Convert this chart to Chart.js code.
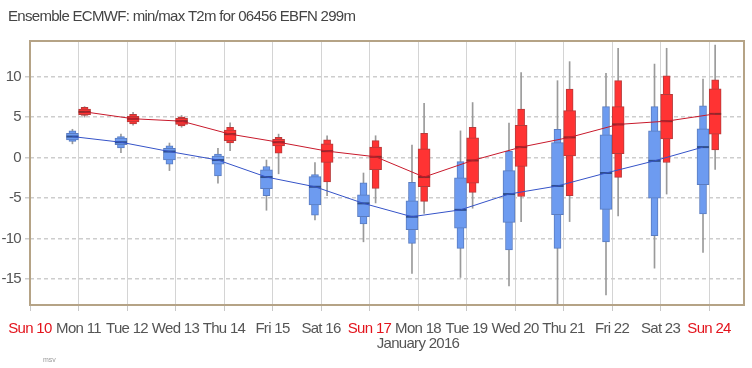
<!DOCTYPE html>
<html>
<head>
<meta charset="utf-8">
<script src="https://cdn.jsdelivr.net/npm/chart.js@4/dist/chart.umd.min.js"></script>
<style>
  html, body { margin: 0; padding: 0; background: #fff; }
  #wrap { width: 752px; height: 368px; }
</style>
</head>
<body>
<div id="wrap"><canvas id="grafico"></canvas></div>
<script>
// Eixo x: dias (meia-noite nos inteiros), rótulo no meio-dia
const dayLabels = ['Sun 10', 'Mon 11', 'Tue 12', 'Wed 13', 'Thu 14', 'Fri 15', 'Sat 16',
                   'Sun 17', 'Mon 18', 'Tue 19', 'Wed 20', 'Thu 21', 'Fri 22', 'Sat 23', 'Sun 24'];
const dayTicks = [11, 12, 13, 14, 15, 16, 17, 18, 19, 20, 21, 22, 23, 24, 25];
const monthLabel = 'January 2016';
const monthUnder = 'Mon 18';
const yTicks = [-15, -10, -5, 0, 5, 10];

// min T2m (09h)
const minTimes     = [11.375, 12.375, 13.375, 14.375, 15.375, 16.375, 17.375, 18.375, 19.375, 20.375, 21.375, 22.375, 23.375, 24.375];
const minWhiskerLo = [1.7, 0.6, -1.6, -3.15, -6.5, -7.7, -10.4, -14.3, -14.8, -15.85, -18.2, -16.95, -13.65, -11.7];
const minOuterLo   = [2.0, 1.2, -0.8, -2.25, -4.7, -7.1, -8.2, -10.6, -11.2, -11.4, -11.2, -10.4, -9.65, -6.95];
const minInnerLo   = [2.2, 1.6, -0.3, -0.8, -3.85, -5.85, -7.3, -8.9, -8.7, -8.0, -7.05, -6.4, -5.0, -3.35];
const minMedian    = [2.6, 1.9, 0.75, -0.3, -2.4, -3.6, -5.65, -7.3, -6.45, -4.5, -3.5, -1.9, -0.4, 1.3];
const minInnerHi   = [3.0, 2.4, 1.15, 0.2, -1.5, -2.35, -4.6, -5.35, -2.5, -1.6, 1.85, 2.8, 3.3, 3.55];
const minOuterHi   = [3.3, 2.6, 1.45, 0.45, -1.1, -2.1, -3.1, -3.05, -0.5, 0.8, 3.5, 6.3, 6.3, 6.4];
const minWhiskerHi = [3.5, 2.9, 1.8, 1.15, -0.3, -0.6, -1.9, 1.55, 3.3, 4.25, 9.5, 10.4, 11.55, 9.7];

// max T2m (15h)
const maxTimes     = [11.625, 12.625, 13.625, 14.625, 15.625, 16.625, 17.625, 18.625, 19.625, 20.625, 21.625, 22.625, 23.625, 24.625];
const maxWhiskerLo = [5.0, 4.0, 3.75, 0.85, -2.0, -4.7, -5.6, -6.9, -6.25, -7.9, -7.9, -7.2, -4.5, -1.45];
const maxOuterLo   = [5.2, 4.15, 3.9, 1.8, 0.55, -3.0, -3.8, -5.4, -4.3, -4.8, -4.7, -2.45, -0.6, 0.95];
const maxInnerLo   = [5.3, 4.4, 4.1, 2.1, 1.45, -0.6, -1.5, -3.6, -3.15, -1.1, 0.2, 0.5, 2.3, 2.9];
const maxMedian    = [5.65, 4.8, 4.5, 2.9, 1.9, 0.8, 0.1, -2.4, -0.35, 1.3, 2.5, 4.1, 4.5, 5.4];
const maxInnerHi   = [6.0, 5.1, 4.85, 3.4, 2.25, 1.7, 1.3, 1.1, 2.45, 4.0, 5.8, 6.3, 7.8, 8.5];
const maxOuterHi   = [6.2, 5.35, 5.0, 3.75, 2.5, 2.2, 2.1, 3.0, 3.75, 6.0, 8.45, 9.5, 10.1, 9.6];
const maxWhiskerHi = [6.3, 5.6, 5.2, 4.3, 2.9, 2.7, 2.7, 6.7, 6.8, 10.5, 11.85, 13.5, 13.5, 13.9];

// Sem fonte "narrow" instalada: Liberation Sans um pouco apertada
const fonte = "'Liberation Sans', Arial, sans-serif";
const espacamento = '-0.7px';

function faixa(tempos, lo, hi) {
    return tempos.map((t, i) => ({ x: t, y: [lo[i], hi[i]] }));
}
function pontos(tempos, valores) {
    return tempos.map((t, i) => ({ x: t, y: valores[i] }));
}

function caixas(tempos, s, cor, borda, escuro, base) {
    return [
        { type: 'bar', data: faixa(tempos, s.wLo, s.wHi), backgroundColor: '#9a9a9a',
          borderWidth: 0, barThickness: 1, order: base + 3 },
        { type: 'bar', data: faixa(tempos, s.oLo, s.oHi), backgroundColor: cor,
          borderColor: borda, borderWidth: 1, borderSkipped: false, barThickness: 7, order: base + 2 },
        { type: 'bar', data: faixa(tempos, s.iLo, s.iHi), backgroundColor: cor,
          borderColor: borda, borderWidth: 1, borderSkipped: false, barThickness: 12, order: base + 1 },
        { type: 'line', data: pontos(tempos, s.med), showLine: false, pointStyle: 'line',
          pointRadius: 6, pointBorderWidth: 2, pointBorderColor: escuro, borderColor: escuro, order: base }
    ];
}

const moldura = {
    id: 'moldura',
    beforeUpdate(chart) { chart.ctx.letterSpacing = espacamento; },
    afterLayout(chart) {
        // o eixo y começa no canto, para o "-15" não ser cortado
        chart.scales.y.left = 0;
    },
    beforeDraw(chart) { chart.ctx.letterSpacing = espacamento; },
    afterDraw(chart) {
        const { ctx, chartArea: a } = chart;
        ctx.save();
        ctx.strokeStyle = '#b5a386';
        ctx.lineWidth = 2;
        ctx.strokeRect(a.left, a.top, a.right - a.left, a.bottom - a.top);
        ctx.letterSpacing = '0px';
        ctx.fillStyle = '#9a9a9a';
        ctx.font = "7px 'Liberation Sans', sans-serif";
        ctx.fillText('msv', 43, 362);
        ctx.restore();
    }
};

const ctx = document.getElementById('grafico').getContext('2d');
new Chart(ctx, {
    type: 'bar',
    data: {
        datasets: [
            { type: 'line', data: pontos(maxTimes, maxMedian), borderColor: '#c8192b', borderWidth: 1,
              pointRadius: 0, tension: 0, order: 1 },
            { type: 'line', data: pontos(minTimes, minMedian), borderColor: '#3553c8', borderWidth: 1,
              pointRadius: 0, tension: 0, order: 2 },
            ...caixas(maxTimes, { wLo: maxWhiskerLo, wHi: maxWhiskerHi, oLo: maxOuterLo, oHi: maxOuterHi,
                                  iLo: maxInnerLo, iHi: maxInnerHi, med: maxMedian },
                      '#ff3333', '#b83a3a', '#8e2a2a', 10),
            ...caixas(minTimes, { wLo: minWhiskerLo, wHi: minWhiskerHi, oLo: minOuterLo, oHi: minOuterHi,
                                  iLo: minInnerLo, iHi: minInnerHi, med: minMedian },
                      '#6d9bf0', '#5a7cc0', '#2f4f8c', 20)
        ]
    },
    options: {
        responsive: true,
        maintainAspectRatio: false,
        animation: false,
        layout: { padding: { left: 8, right: 7, top: 0, bottom: 0 } },
        datasets: { bar: { grouped: false } },
        plugins: {
            legend: { display: false },
            tooltip: { enabled: false },
            title: {
                display: true,
                text: 'Ensemble ECMWF: min/max T2m for 06456 EBFN 299m',
                align: 'start',
                color: '#444',
                font: { family: fonte, size: 15, weight: 'normal' },
                padding: { top: 8, bottom: 15 }
            }
        },
        scales: {
            x: {
                type: 'linear',
                min: 10.5,
                max: 25.22,
                offset: false,
                afterBuildTicks: (scale) => { scale.ticks = dayTicks.map(v => ({ value: v })); },
                afterFit: (scale) => { scale.height = 63; scale.paddingLeft = 0; scale.paddingRight = 0; },
                grid: { color: '#d4d4d4', lineWidth: 1, tickLength: 6, tickColor: '#c8c8c8' },
                border: { display: false },
                ticks: {
                    autoSkip: false,
                    maxRotation: 0,
                    labelOffset: -24.3,
                    padding: 10,
                    color: (c) => (dayLabels[c.index] || '').startsWith('Sun') ? '#e3131c' : '#555',
                    font: { family: fonte, size: 15, lineHeight: 1.0 },
                    callback: (v, i) => dayLabels[i] === monthUnder ? [dayLabels[i], monthLabel] : dayLabels[i]
                }
            },
            y: {
                min: -18.2,
                max: 14.4,
                afterBuildTicks: (scale) => { scale.ticks = yTicks.map(v => ({ value: v })); },
                afterFit: (scale) => { scale.width = 22; },
                grid: { color: '#cdcdcd', lineWidth: 1.5, tickLength: 5, tickBorderDash: [4, 3] },
                border: { display: false, dash: [4, 3] },
                ticks: {
                    padding: 4,
                    color: '#555',
                    font: { family: fonte, size: 15 }
                }
            }
        }
    },
    plugins: [moldura]
});
</script>
</body>
</html>
